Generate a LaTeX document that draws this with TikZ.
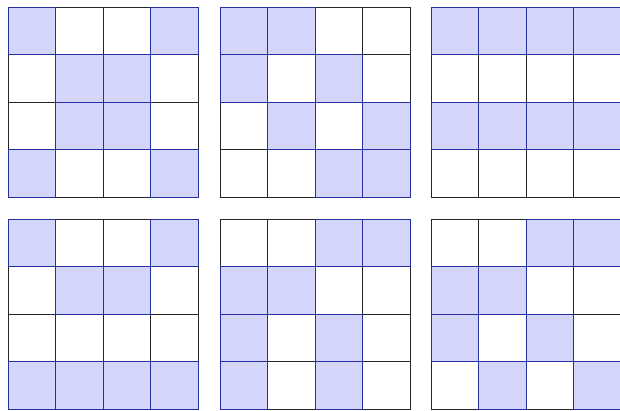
\documentclass[tikz,border=0pt]{standalone}
\definecolor{cellfill}{RGB}{211,214,250}
\definecolor{celledge}{RGB}{38,48,160}
\begin{document}
\begin{tikzpicture}[x=1pt,y=-1pt,
  gridcell/.style={draw=black!85,line width=0.8pt},
  shadedcell/.style={fill=cellfill,draw=celledge,line width=0.8pt}]
\clip (0,0) rectangle (620,410);
\fill[white] (0,0) rectangle (620,410);
\foreach \gx/\gy in {8/7,220/7,431/7,8/219,220/219,431/219}{
  \foreach \i in {0,...,3}{
    \foreach \j in {0,...,3}{
      \draw[gridcell] ({\gx+\i*47.5},{\gy+\j*47.5}) rectangle ++(47.5,47.5);
    }
  }
}
% shaded cells: column/row
\foreach \gx/\gy/\cells in {
  8/7/{0/0,3/0,1/1,2/1,1/2,2/2,0/3,3/3},
  220/7/{0/0,1/0,0/1,2/1,1/2,3/2,2/3,3/3},
  431/7/{0/0,1/0,2/0,3/0,0/2,1/2,2/2,3/2},
  8/219/{0/0,3/0,1/1,2/1,0/3,1/3,2/3,3/3},
  220/219/{2/0,3/0,0/1,1/1,0/2,2/2,0/3,2/3},
  431/219/{2/0,3/0,0/1,1/1,0/2,2/2,1/3,3/3}}{
  \foreach \c/\r in \cells{
    \draw[shadedcell] ({\gx+\c*47.5},{\gy+\r*47.5}) rectangle ++(47.5,47.5);
  }
}
\end{tikzpicture}
\end{document}
